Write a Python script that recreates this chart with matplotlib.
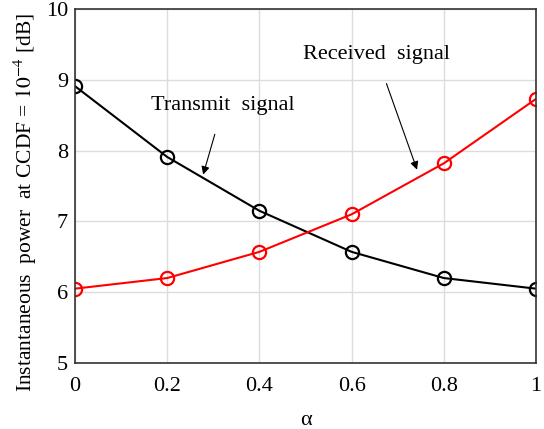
import matplotlib.pyplot as plt
import numpy as np

plt.rcParams['font.family'] = ['Liberation Serif', 'DejaVu Serif']
plt.rcParams['mathtext.fontset'] = 'stix'

alpha = [0, 0.2, 0.4, 0.6, 0.8, 1.0]
transmit = [8.91, 7.91, 7.15, 6.57, 6.20, 6.05]
received = [6.05, 6.20, 6.57, 7.10, 7.82, 8.73]

fig = plt.figure(figsize=(5.44, 4.29), dpi=100)
ax = fig.add_axes([75 / 544, 1 - 363 / 429, 461 / 544, 354 / 429])

ax.plot(alpha, transmit, color='black', lw=1.5, marker='o', ms=9.5,
        mfc='none', mec='black', mew=1.6)
ax.plot(alpha, received, color='red', lw=1.5, marker='o', ms=9.5,
        mfc='none', mec='red', mew=1.6)

ax.set_xlim(0, 1)
ax.set_ylim(5, 10)
ax.set_xticks(alpha)
ax.set_xticklabels(['0', '0.2', '0.4', '0.6', '0.8', '1'])
ax.set_yticks([5, 6, 7, 8, 9, 10])
ax.grid(True, color='#dcdcdc', lw=1)
ax.set_axisbelow(True)
ax.tick_params(axis='x', length=0, labelsize=16, pad=10)
ax.tick_params(axis='y', length=0, labelsize=16, pad=5)
for s in ax.spines.values():
    s.set_color('#333333')
    s.set_linewidth(1.2)

ax.set_xlabel('α', fontsize=16, labelpad=11)
ax.set_ylabel('Instantaneous  power  at CCDF = $10^{-4}$ [dB]', fontsize=15.5)
ax.yaxis.set_label_coords(-0.078, 0.455)

ax.annotate('Transmit  signal', xy=(0.278, 7.66), xytext=(0.321, 8.63),
            ha='center', va='center', fontsize=16,
            arrowprops=dict(arrowstyle='-|>', color='black', lw=0.8,
                            shrinkA=12, shrinkB=0, mutation_scale=12))
ax.annotate('Received  signal', xy=(0.742, 7.73), xytext=(0.653, 9.36),
            ha='center', va='center', fontsize=16,
            arrowprops=dict(arrowstyle='-|>', color='black', lw=0.8,
                            shrinkA=13, shrinkB=0, mutation_scale=12))

fig.savefig('out.png', dpi=100)
